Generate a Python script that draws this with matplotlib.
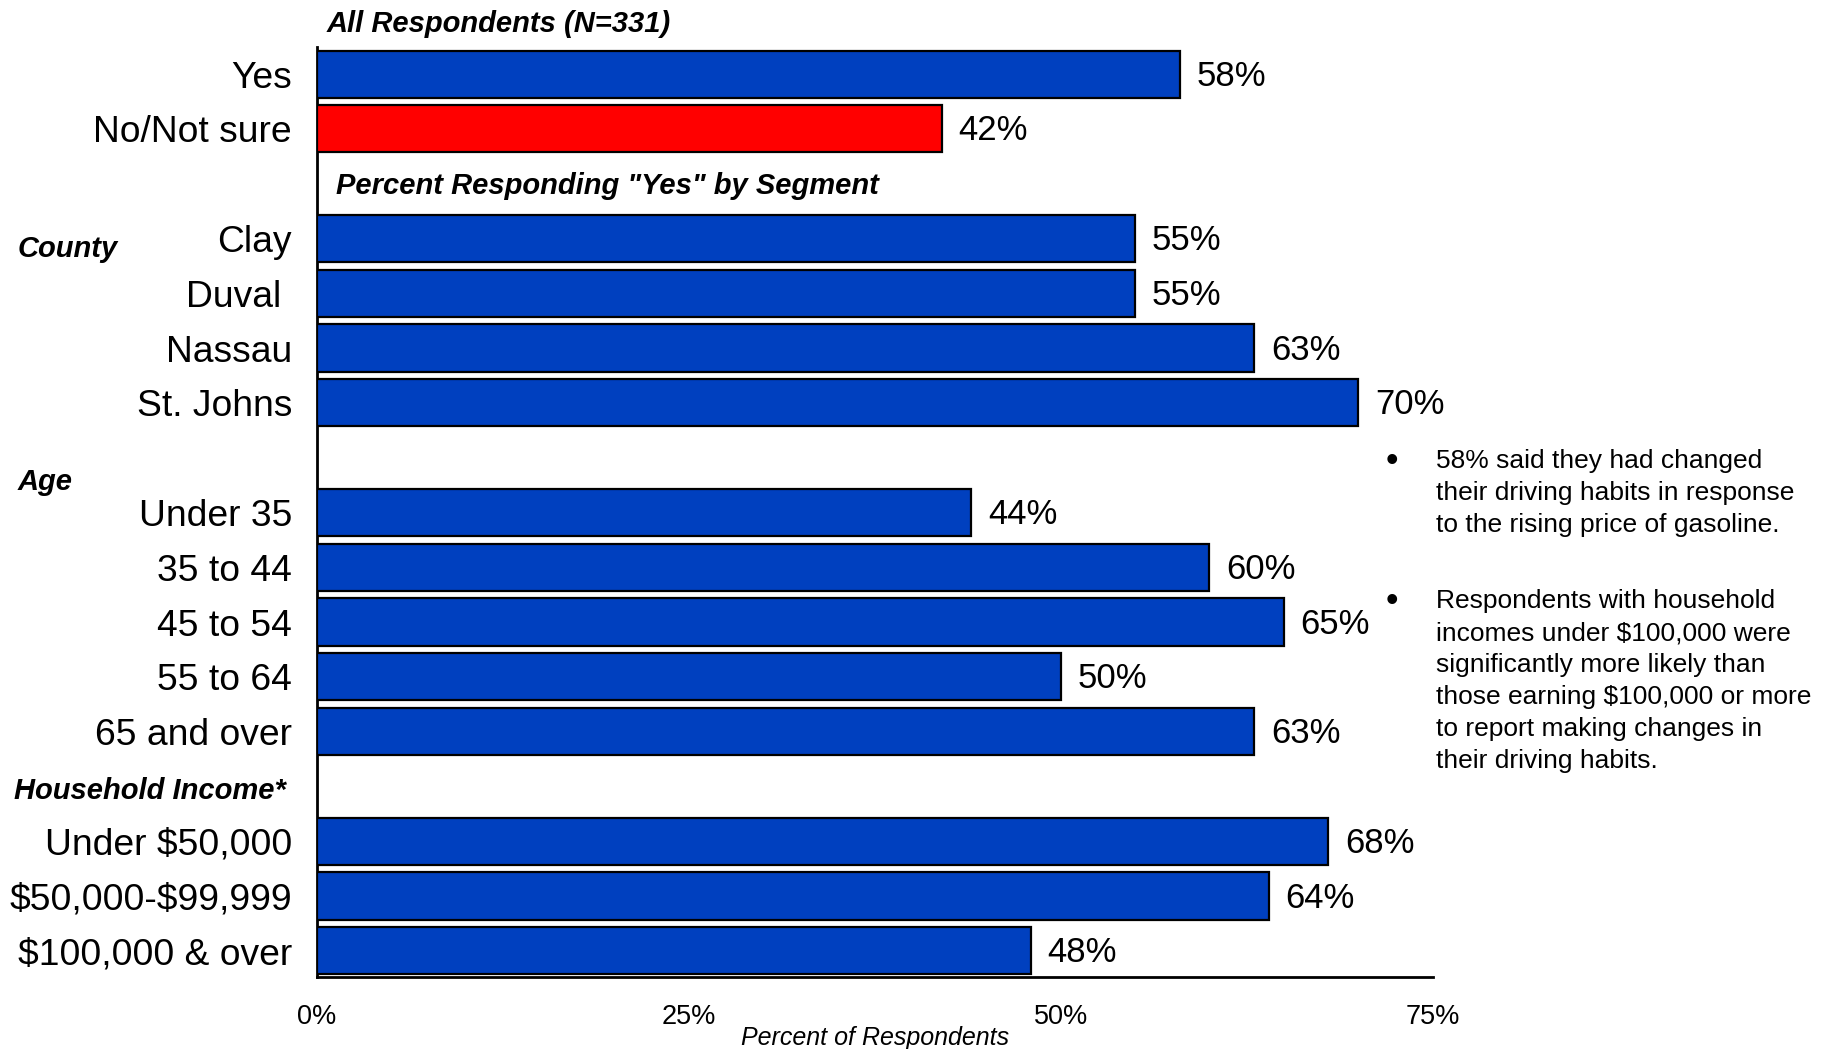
import matplotlib
matplotlib.use("Agg")
import matplotlib.pyplot as plt
import matplotlib.transforms as mtransforms

plt.rcParams['font.family'] = ['Liberation Sans', 'DejaVu Sans']
plt.rcParams['text.parse_math'] = False

# Row labels and values (percent answering "Yes", plus the overall split)
overall_labels = ["Yes", "No/Not sure"]
overall_values = [58, 42]

county_labels = ["Clay", "Duval ", "Nassau", "St. Johns"]
county_values = [55, 55, 63, 70]

age_labels = ["Under 35", "35 to 44", "45 to 54", "55 to 64", "65 and over"]
age_values = [44, 60, 65, 50, 63]

income_labels = ["Under $50,000", "$50,000-$99,999", "$100,000 & over"]
income_values = [68, 64, 48]

x_ticks = [0, 25, 50, 75]
x_tick_labels = ["0%", "25%", "50%", "75%"]

notes = [
    "58% said they had changed\ntheir driving habits in response\nto the rising price of gasoline.",
    "Respondents with household\nincomes under $100,000 were\nsignificantly more likely than\nthose earning $100,000 or more\nto report making changes in\ntheir driving habits.",
]

BLUE = "#0040BF"
RED = "#FF0000"

# Slot layout: group headers occupy empty rows between groups
rows = []  # (slot, label, value, color)
slot = 0
for lab, val, col in zip(overall_labels, overall_values, [BLUE, RED]):
    rows.append((slot, lab, val, col)); slot += 1
seg_header_slot = slot; slot += 1
county_slot = slot
for lab, val in zip(county_labels, county_values):
    rows.append((slot, lab, val, BLUE)); slot += 1
age_gap_slot = slot; slot += 1
for lab, val in zip(age_labels, age_values):
    rows.append((slot, lab, val, BLUE)); slot += 1
income_gap_slot = slot; slot += 1
for lab, val in zip(income_labels, income_values):
    rows.append((slot, lab, val, BLUE)); slot += 1
n_slots = slot

fig = plt.figure(figsize=(18.32, 10.49), dpi=100)
ax = fig.add_axes([0.173, 0.0691, 0.609, 0.8864])

ys = [r[0] for r in rows]
vals = [r[2] for r in rows]
cols = [r[3] for r in rows]
ax.barh(ys, vals, height=0.86, color=cols, edgecolor="black", linewidth=1.6, zorder=3)

for y, v in zip(ys, vals):
    ax.annotate(f"{v}%", xy=(v, y), xytext=(12, -1.5), textcoords="offset points",
                va="center", ha="left", fontsize=25)

ax.set_ylim(n_slots - 0.53, -0.5)
ax.set_xlim(0, 75)
ax.set_yticks(ys)
ax.set_yticklabels([r[1] for r in rows], fontsize=26.8)
ax.set_xticks(x_ticks)
ax.set_xticklabels(x_tick_labels, fontsize=19.5)
ax.tick_params(axis="both", length=0)
ax.tick_params(axis="y", pad=18)
ax.tick_params(axis="x", pad=20)
ax.set_xlabel("Percent of Respondents", fontsize=18, style="italic", labelpad=-3)

for s in ["top", "right"]:
    ax.spines[s].set_visible(False)
for s in ["left", "bottom"]:
    ax.spines[s].set_linewidth(2)

hdr = dict(fontsize=21, fontweight="bold", style="italic", va="center", ha="left")
ax.text(0.65, -0.92, "All Respondents (N=331)", clip_on=False, **hdr)
ax.text(1.3, seg_header_slot + 0.04, 'Percent Responding "Yes" by Segment', **hdr)

# Group titles in the label margin (figure x, data y)
blend = mtransforms.blended_transform_factory(fig.transFigure, ax.transData)
ax.text(0.0095, county_slot + 0.19, "County", transform=blend, clip_on=False, **hdr)
ax.text(0.0095, age_gap_slot + 0.44, "Age", transform=blend, clip_on=False, **hdr)
ax.text(0.0075, income_gap_slot + 0.09, "Household Income*", transform=blend, clip_on=False, **hdr)

# Bulleted notes to the right of the chart
note_x = 1436 / 1832
bullet_x = 1392 / 1832
note_tops = [1 - 464 / 1049, 1 - 604 / 1049]
for top, note in zip(note_tops, notes):
    fig.text(bullet_x, top + 0.002, "\u2022", fontsize=26, ha="center", va="center")
    fig.text(note_x, top + 0.014, note, fontsize=19, ha="left", va="top", linespacing=1.42)

fig.savefig("out.png", dpi=100)
